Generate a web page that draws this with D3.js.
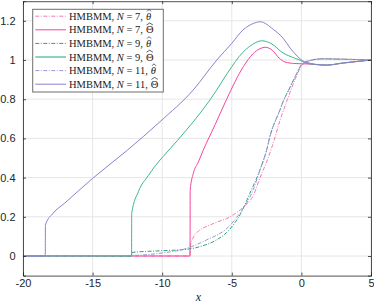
<!DOCTYPE html>
<html>
<head>
<meta charset="utf-8">
<script src="https://cdn.jsdelivr.net/npm/d3@7"></script>
<style>
  body { margin: 0; background: #fff; }
  svg { display: block; }
</style>
</head>
<body>
<svg id="chart" width="374" height="303"></svg>
<script>
// data
const n7ThetaX = [-20, -8.0, -7.99, -7.8, -7.5, -7.0, -6.5, -6.0, -5.4, -4.9, -4.4, -4.0, -3.45, -2.97, -2.5, -2.1, -1.5, -1.0, -0.4, 0, 0.6, 1.5, 3, 5];
const n7ThetaY = [0, 0, 0.045, 0.09, 0.12, 0.145, 0.16, 0.175, 0.19, 0.21, 0.235, 0.26, 0.31, 0.40, 0.48, 0.56, 0.70, 0.80, 0.91, 0.97, 0.996, 1.006, 1.004, 1.0];

const n7BigX = [-20, -8.0, -7.99, -7.77, -7.4, -7.05, -6.2, -5.37, -4.17, -3.5, -2.97, -2.6, -2.1, -1.6, -1.18, -0.46, 0.4, 1.8, 3, 4, 5];
const n7BigY = [0, 0, 0.337, 0.42, 0.48, 0.54, 0.67, 0.80, 0.966, 1.03, 1.058, 1.065, 1.05, 1.01, 0.99, 0.982, 0.98, 0.974, 0.984, 0.992, 1.0];

const n9ThetaX = [-20, -12.2, -12.19, -10, -8.24, -7.28, -6.1, -5.37, -4.9, -4.41, -3.7, -2.97, -2.5, -2.26, -1.54, -1.3, -0.94, -0.34, 0, 0.6, 1.5, 3, 5];
const n9ThetaY = [0, 0, 0.018, 0.027, 0.034, 0.048, 0.082, 0.12, 0.158, 0.21, 0.32, 0.44, 0.54, 0.61, 0.745, 0.79, 0.843, 0.93, 0.975, 0.997, 1.006, 1.004, 1.0];

const n9BigX = [-20, -12.2, -12.19, -11.7, -11.0, -10.5, -9.94, -8.9, -6.57, -5, -4.48, -3.5, -2.85, -2.2, -1.3, -0.5, -0.07, 0.4, 1.8, 3, 5];
const n9BigY = [0, 0, 0.218, 0.33, 0.41, 0.46, 0.507, 0.59, 0.796, 0.966, 1.017, 1.08, 1.098, 1.085, 1.035, 1.01, 0.998, 0.983, 0.974, 0.985, 1.0];

const n11ThetaX = [-20, -18.4, -12.2, -10.16, -8.24, -6.81, -5.37, -4.41, -3.45, -2.97, -2.5, -2.26, -1.54, -1.3, -0.94, -0.34, 0, 0.6, 1.5, 3, 5];
const n11ThetaY = [0, 0, 0.003, 0.014, 0.039, 0.082, 0.14, 0.22, 0.34, 0.44, 0.54, 0.61, 0.745, 0.79, 0.843, 0.93, 0.975, 0.997, 1.006, 1.004, 1.0];

const n11BigX = [-20, -18.4, -18.39, -17.84, -17, -15, -12.5, -10.16, -7.77, -6.08, -5, -4.2, -3.5, -2.97, -2.0, -1.3, -0.8, -0.3, 0.25, 1.8, 3, 5];
const n11BigY = [0, 0, 0.158, 0.218, 0.27, 0.396, 0.54, 0.685, 0.847, 1.0, 1.085, 1.153, 1.185, 1.195, 1.155, 1.11, 1.06, 1.02, 0.99, 0.974, 0.985, 1.0];

const xTicks = [-20, -15, -10, -5, 0, 5];
const yTicks = [0, 0.2, 0.4, 0.6, 0.8, 1, 1.2];
const legendN = ['7', '7', '9', '9', '11', '11'];
const legendSym = ['\u03B8', '\u0398', '\u03B8', '\u0398', '\u03B8', '\u0398'];

const series = [
  { x: n7ThetaX, y: n7ThetaY, color: '#f57ab5', dash: '4,1.5,1,1.5' },
  { x: n7BigX, y: n7BigY, color: '#f7449d', dash: null },
  { x: n9ThetaX, y: n9ThetaY, color: '#2ea07c', dash: '4,1.5,1,1.5' },
  { x: n9BigX, y: n9BigY, color: '#3db98e', dash: null },
  { x: n11ThetaX, y: n11ThetaY, color: '#9b95d6', dash: '4,1.5,1,1.5' },
  { x: n11BigX, y: n11BigY, color: '#8a80cf', dash: null }
];

const svg = d3.select('#chart');
const plotL = 23, plotR = 371, plotT = 1.2, plotB = 275.6;

const x = d3.scaleLinear().domain([-20, 5]).range([plotL, plotR]);
const y = d3.scaleLinear().domain([-0.1, 1.3]).range([plotB, plotT]);

// grid
svg.append('g').selectAll('line').data(xTicks).enter().append('line')
  .attr('x1', d => x(d)).attr('x2', d => x(d))
  .attr('y1', plotT).attr('y2', plotB)
  .attr('stroke', '#e6e6e6').attr('stroke-width', 1);
svg.append('g').selectAll('line').data(yTicks).enter().append('line')
  .attr('x1', plotL).attr('x2', plotR)
  .attr('y1', d => y(d)).attr('y2', d => y(d))
  .attr('stroke', '#e6e6e6').attr('stroke-width', 1);

// curves
const line = d3.line()
  .x(d => x(d[0]))
  .y(d => y(d[1]))
  .curve(d3.curveMonotoneX);

const plot = svg.append('g');
series.forEach(s => {
  const pts = s.x.map((v, i) => [v, s.y[i]]);
  plot.append('path')
    .attr('d', line(pts))
    .attr('fill', 'none')
    .attr('stroke', s.color)
    .attr('stroke-width', 1)
    .attr('stroke-dasharray', s.dash);
});

// axes, matlab style ticks inside
const axisColor = '#262626';
const xAxis = svg.append('g').attr('transform', `translate(0,${plotB})`)
  .call(d3.axisBottom(x).tickValues(xTicks).tickSize(-3).tickPadding(4).tickFormat(d => String(d)));
const xTop = svg.append('g').attr('transform', `translate(0,${plotT})`)
  .call(d3.axisTop(x).tickValues(xTicks).tickSize(-3).tickFormat(''));
const yAxis = svg.append('g').attr('transform', `translate(${plotL},0)`)
  .call(d3.axisLeft(y).tickValues(yTicks).tickSize(-3).tickPadding(7.5).tickFormat(d => String(+d.toFixed(1))));
const yRight = svg.append('g').attr('transform', `translate(${plotR},0)`)
  .call(d3.axisRight(y).tickValues(yTicks).tickSize(-3).tickFormat(''));

[xAxis, xTop, yAxis, yRight].forEach(g => {
  g.select('.domain').attr('stroke', axisColor).attr('stroke-width', 0.8);
  g.selectAll('.tick line').attr('stroke', axisColor).attr('stroke-width', 0.8);
  g.selectAll('text').attr('fill', axisColor)
    .style('font-family', '"Liberation Sans", Arial, sans-serif').style('font-size', '11px');
});

svg.append('text')
  .attr('x', x(-7.4)).attr('y', 301)
  .attr('text-anchor', 'middle')
  .style('font-family', '"Liberation Serif", "DejaVu Serif", serif')
  .style('font-style', 'italic').style('font-size', '12px')
  .attr('fill', axisColor)
  .text('x');

// legend
const lg = svg.append('g');
lg.append('rect')
  .attr('x', 32.7).attr('y', 9.3).attr('width', 130.6).attr('height', 82.7)
  .attr('fill', '#fff').attr('stroke', '#6e6e6e').attr('stroke-width', 1);

const serif = '"Liberation Serif", "DejaVu Serif", serif';
series.forEach((s, i) => {
  const yy = 16.2 + i * 13.6;
  lg.append('line')
    .attr('x1', 35.3).attr('x2', 66).attr('y1', yy).attr('y2', yy)
    .attr('stroke', s.color)
    .attr('stroke-width', i === 3 ? 1.6 : 1)
    .attr('stroke-opacity', i === 3 ? 0.75 : 1)
    .attr('stroke-dasharray', s.dash);
  const base = yy + 3.6;
  const t = lg.append('text')
    .attr('x', 69).attr('y', base)
    .attr('fill', '#1a1a1a')
    .style('font-family', serif)
    .style('font-size', '10.5px');
  t.append('tspan').text('HMBMM, ');
  t.append('tspan').style('font-style', 'italic').text('N');
  t.append('tspan').text(' = ' + legendN[i] + ',');
  const sx = 69 + t.node().getComputedTextLength() + 3;
  const sym = lg.append('text')
    .attr('x', sx).attr('y', base)
    .attr('fill', '#1a1a1a')
    .style('font-family', serif)
    .style('font-size', '10.5px')
    .style('font-style', i % 2 === 0 ? 'italic' : 'normal')
    .text(legendSym[i]);
  const w = sym.node().getComputedTextLength();
  const cx = sx + w / 2 + (i % 2 === 0 ? 0.6 : 0);
  const hw = i % 2 === 0 ? 2 : 3.2;
  lg.append('path')
    .attr('d', `M${cx - hw},${base - 8.4} L${cx},${base - 10.4} L${cx + hw},${base - 8.4}`)
    .attr('fill', 'none')
    .attr('stroke', '#1a1a1a')
    .attr('stroke-width', 0.7);
});
</script>
</body>
</html>
